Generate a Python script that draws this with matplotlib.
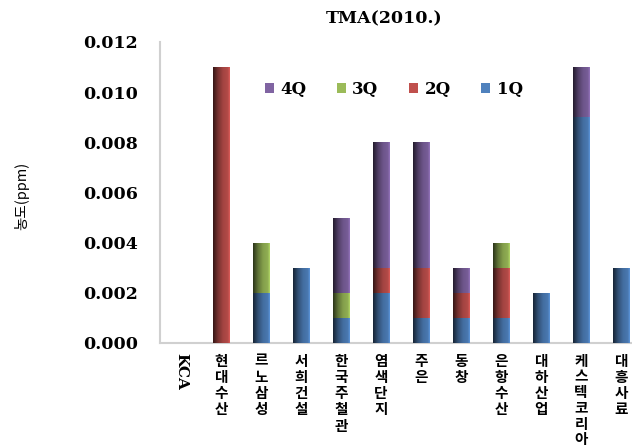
import numpy as np
import matplotlib
matplotlib.use('Agg')
import matplotlib.pyplot as plt
from matplotlib.colors import LinearSegmentedColormap, to_rgb

plt.rcParams['font.family'] = ['Noto Sans CJK KR', 'DejaVu Sans']

# TMA concentration by company and quarter (ppm)
companies = ['KCA', '현대수산', '르노삼성', '서희건설', '한국주철관', '염색단지',
             '주은', '동창', '은항수산', '대하산업', '케스텍 코리아', '대흥사료']
q1 = [0, 0, 0.002, 0.003, 0.001, 0.002, 0.001, 0.001, 0.001, 0.002, 0.009, 0.003]
q2 = [0, 0.011, 0, 0, 0, 0.001, 0.002, 0.001, 0.002, 0, 0, 0]
q3 = [0, 0, 0.002, 0, 0.001, 0, 0, 0, 0.001, 0, 0, 0]
q4 = [0, 0, 0, 0, 0.003, 0.005, 0.005, 0.001, 0, 0, 0.002, 0]
quarters = ['1Q', '2Q', '3Q', '4Q']
colors = ['#4F81BD', '#C0504D', '#9BBB59', '#8064A2']
yticks = [0.000, 0.002, 0.004, 0.006, 0.008, 0.010, 0.012]

serif = {'family': 'DejaVu Serif', 'weight': 'bold'}


def shade(ax, bars, color):
    # horizontal dark-to-light fill, clipped to each bar
    c = np.array(to_rgb(color))
    cmap = LinearSegmentedColormap.from_list(
        'g', [(0.0, c * 0.28), (0.3, c * 0.62), (0.6, c * 0.85),
              (0.88, c * 0.93), (1.0, np.minimum(c * 1.15, 1))])
    grad = np.linspace(0, 1, 64).reshape(1, -1)
    for b in bars:
        if b.get_height() <= 0:
            continue
        x0, y0 = b.get_x(), b.get_y()
        im = ax.imshow(grad, cmap=cmap, aspect='auto', interpolation='bilinear',
                       extent=(x0, x0 + b.get_width(), y0, y0 + b.get_height()),
                       zorder=3)
        im.set_clip_path(b)


fig = plt.figure(figsize=(6.32, 4.46), dpi=100)
ax = fig.add_axes([0.253, 0.231, 0.747, 0.675])

x = np.arange(len(companies))
bottom = np.zeros(len(companies))
handles = []
for vals, label, col in zip([q1, q2, q3, q4], quarters, colors):
    bars = ax.bar(x, vals, 0.4, bottom=bottom, color=col, label=label,
                  zorder=2, linewidth=0)
    shade(ax, bars, col)
    handles.append(bars)
    bottom += np.array(vals)

ax.set_xlim(-0.525, 11.275)
ax.set_ylim(0, 0.012)
ax.set_yticks(yticks)
ax.set_yticklabels([f'{v:.3f}' for v in yticks], fontsize=12.5, **serif)
ax.tick_params(axis='y', length=0, pad=16)

# vertical category labels: hangul stacked upright, latin rotated
labels = [n if n.isascii() else '\n'.join(n.replace(' ', '')) for n in companies]
ax.set_xticks(x)
ax.set_xticklabels(labels, fontsize=10.5, fontweight='bold', linespacing=1.02,
                   va='top')
ax.tick_params(axis='x', length=0, pad=7)
for t, n in zip(ax.get_xticklabels(), companies):
    if n.isascii():
        t.set_rotation(-90)
        t.set_fontproperties(serif)
        t.set_fontsize(11)
    elif ' ' in n:
        t.set_linespacing(0.98)

for s in ['top', 'right']:
    ax.spines[s].set_visible(False)
for s in ['left', 'bottom']:
    ax.spines[s].set_color('#d0d0d0')
    ax.spines[s].set_linewidth(1.5)

fig.text(384 / 632, 1 - 19 / 446, 'TMA(2010.)', fontsize=12.5,
         ha='center', va='center', **serif)
fig.text(0.035, 0.56, '농도(ppm)', rotation=90, fontsize=10.5,
         ha='center', va='center')

ax.legend(handles[::-1], quarters[::-1], ncol=4, frameon=False,
          loc='upper center', bbox_to_anchor=(0.495, 0.92),
          handlelength=0.55, handleheight=0.55, handletextpad=0.4,
          columnspacing=1.8, prop={**serif, 'size': 12})

fig.savefig('out.png', dpi=100)
